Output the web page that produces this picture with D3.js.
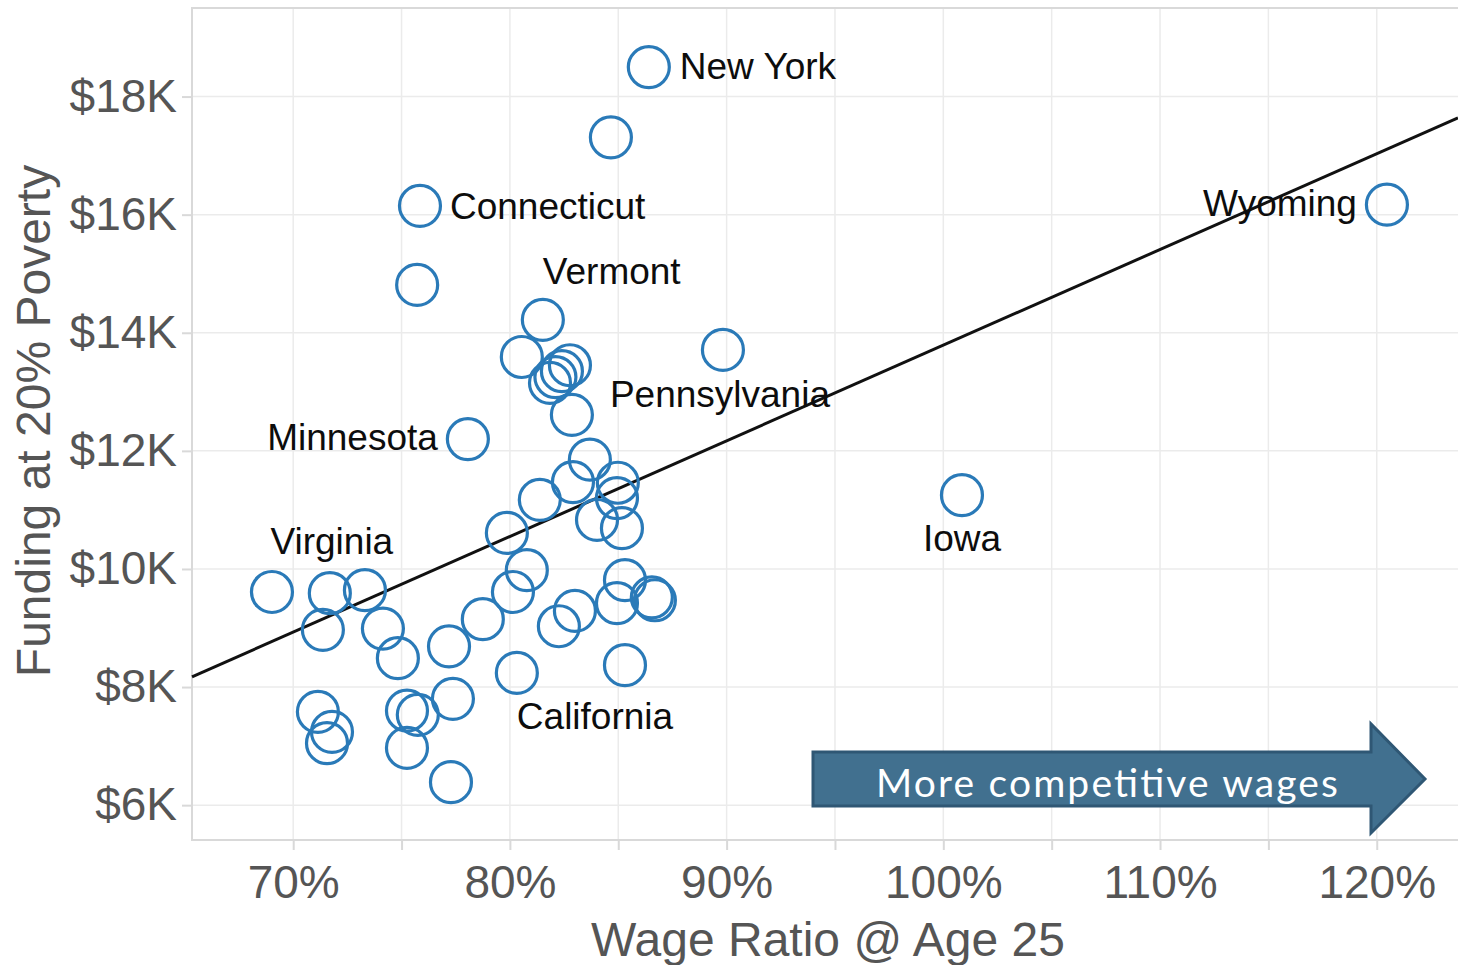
<!DOCTYPE html>
<html>
<head>
<meta charset="utf-8">
<script src="https://cdn.jsdelivr.net/npm/d3@7"></script>
<style>
  body { margin: 0; background: #fff; }
  svg { display: block; font-family: "Liberation Sans", Arial, sans-serif; }
</style>
</head>
<body>
<svg id="chart" width="1458" height="965"></svg>
<script>
// Data (wage ratio in %, funding in $K)
var wageRatio = [86.41, 84.66, 75.85, 75.72, 81.52, 80.55, 82.77, 82.40, 81.85, 82.10,
  89.83, 82.86, 78.06, 83.69, 82.91, 84.98, 81.38, 84.94, 84.02, 85.17,
  79.86, 100.86, 120.47, 80.78, 80.14, 69.02, 71.69, 73.31, 71.37, 74.14,
  74.83, 77.19, 78.75, 82.26, 83.00, 84.94, 85.31, 86.55, 86.69, 80.32,
  85.31, 71.14, 71.79, 71.56, 75.25, 75.75, 77.37, 75.25, 77.28]
var funding = [18.50, 17.31, 16.15, 14.81, 14.22, 13.59, 13.45, 13.35, 13.15, 13.25,
  13.71, 12.61, 12.20, 11.85, 11.47, 11.46, 11.17, 11.20, 10.83, 10.69,
  10.61, 11.25, 16.17, 9.98, 9.61, 9.61, 9.59, 9.64, 8.97, 8.99,
  8.49, 8.69, 9.15, 9.03, 9.29, 9.42, 9.81, 9.52, 9.47, 8.24,
  8.37, 7.58, 7.24, 7.05, 7.60, 7.53, 7.80, 6.97, 6.39]
var stateLabels = ['New York', '', 'Connecticut', '', 'Vermont', '', '', '', '', '',
  '', 'Pennsylvania', 'Minnesota', '', '', '', '', '', '', '',
  '', 'Iowa', 'Wyoming', '', '', '', 'Virginia', '', '', '',
  '', '', '', '', '', '', '', '', '', 'California',
  '', '', '', '', '', '', '', '', '']
var xTicks = [70, 75, 80, 85, 90, 95, 100, 105, 110, 115, 120]
var yTicks = [6, 8, 10, 12, 14, 16, 18]
var trendCoef = [0.1620, -2.41] // slope, intercept of the fitted line

// Label placement (layout only)
var labelPos = {
  'New York': { dx: 31, dy: 12, anchor: 'start' },
  'Connecticut': { dx: 30, dy: 13, anchor: 'start' },
  'Vermont': { dx: 0, dy: -36, anchor: 'start' },
  'Pennsylvania': { dx: 38, dy: -8, anchor: 'start' },
  'Minnesota': { dx: -30, dy: 11, anchor: 'end' },
  'Iowa': { dx: 0, dy: 56, anchor: 'middle' },
  'Wyoming': { dx: -30, dy: 11, anchor: 'end' },
  'Virginia': { dx: 2, dy: -39, anchor: 'middle' },
  'California': { dx: 0, dy: 56, anchor: 'start' }
}

var conf = {
  left: 192, top: 8, right: 1458, bottom: 840,
  radius: 20.5,
  blue: '#2a7ab8',
  grid: '#ebebeb',
  border: '#d9d9d9',
  tickText: '#555555'
}

var points = wageRatio.map(function (w, i) {
  return { wage: w, fund: funding[i], name: stateLabels[i] }
})

var svg = d3.select('#chart')

var x = d3.scaleLinear()
  .domain([65.33, 123.75])
  .range([conf.left, conf.right])

var y = d3.scaleLinear()
  .domain([5.41, 19.5])
  .range([conf.bottom, conf.top])

// Gridlines
svg.append('g').selectAll('line')
  .data(xTicks)
  .enter().append('line')
  .attr('x1', function (d) { return x(d) })
  .attr('x2', function (d) { return x(d) })
  .attr('y1', conf.top)
  .attr('y2', conf.bottom)
  .attr('stroke', conf.grid)
  .attr('stroke-width', 1.5)

svg.append('g').selectAll('line')
  .data(yTicks)
  .enter().append('line')
  .attr('x1', conf.left)
  .attr('x2', conf.right)
  .attr('y1', function (d) { return y(d) })
  .attr('y2', function (d) { return y(d) })
  .attr('stroke', conf.grid)
  .attr('stroke-width', 1.5)

// Frame
svg.append('path')
  .attr('d', 'M' + conf.right + ',' + conf.top + 'H' + conf.left + 'V' + conf.bottom + 'H' + conf.right)
  .attr('fill', 'none')
  .attr('stroke', conf.border)
  .attr('stroke-width', 2)

// Axes
var yAxis = svg.append('g')
  .attr('transform', 'translate(' + conf.left + ',0)')
  .call(d3.axisLeft(y).tickValues(yTicks).tickSize(10).tickPadding(5)
    .tickFormat(function (d) { return '$' + d + 'K' }))

var xAxis = svg.append('g')
  .attr('transform', 'translate(0,' + conf.bottom + ')')
  .call(d3.axisBottom(x).tickValues(xTicks).tickSize(10).tickPadding(15)
    .tickFormat(function (d) { return d % 10 === 0 ? d + '%' : '' }))

;[xAxis, yAxis].forEach(function (a) {
  a.select('.domain').remove()
  a.selectAll('.tick line').attr('stroke', conf.border).attr('stroke-width', 2)
  a.selectAll('.tick text')
    .attr('fill', conf.tickText)
    .style('font-family', '"Liberation Sans", Arial, sans-serif')
    .style('font-size', '46px')
})

// Axis titles
svg.append('text')
  .attr('x', 828)
  .attr('y', 956)
  .attr('text-anchor', 'middle')
  .attr('fill', conf.tickText)
  .style('font-size', '48px')
  .text('Wage Ratio @ Age 25')

svg.append('text')
  .attr('transform', 'translate(50,421) rotate(-90)')
  .attr('text-anchor', 'middle')
  .attr('fill', conf.tickText)
  .style('font-size', '48px')
  .text('Funding at 20% Poverty')

// Trend line
var trendX = x.domain()
svg.append('line')
  .attr('x1', x(trendX[0]))
  .attr('x2', x(trendX[1]))
  .attr('y1', y(trendCoef[0] * trendX[0] + trendCoef[1]))
  .attr('y2', y(trendCoef[0] * trendX[1] + trendCoef[1]))
  .attr('stroke', '#111')
  .attr('stroke-width', 3)

// Points
svg.append('g').selectAll('circle')
  .data(points)
  .enter().append('circle')
  .attr('cx', function (d) { return x(d.wage) })
  .attr('cy', function (d) { return y(d.fund) })
  .attr('r', conf.radius)
  .attr('fill', 'none')
  .attr('stroke', conf.blue)
  .attr('stroke-width', 3.2)

// State labels
svg.append('g').selectAll('text')
  .data(points.filter(function (d) { return d.name }))
  .enter().append('text')
  .attr('x', function (d) { return x(d.wage) + labelPos[d.name].dx })
  .attr('y', function (d) { return y(d.fund) + labelPos[d.name].dy })
  .attr('text-anchor', function (d) { return labelPos[d.name].anchor })
  .attr('fill', '#0d0d0d')
  .style('font-size', '37px')
  .text(function (d) { return d.name })

// Annotation arrow
var arrow = { x0: 813, x1: 1371, tip: 1425, top: 752, bot: 806, headTop: 724, headBot: 833 }
var midY = (arrow.top + arrow.bot) / 2
svg.append('path')
  .attr('d', 'M' + arrow.x0 + ',' + arrow.top +
    'H' + arrow.x1 + 'V' + arrow.headTop +
    'L' + arrow.tip + ',' + midY +
    'L' + arrow.x1 + ',' + arrow.headBot +
    'V' + arrow.bot + 'H' + arrow.x0 + 'Z')
  .attr('fill', '#41708f')
  .attr('stroke', '#2f5774')
  .attr('stroke-width', 3)
  .attr('stroke-linejoin', 'miter')

svg.append('text')
  .attr('x', 876)
  .attr('y', 797)
  .attr('fill', '#fff')
  .attr('textLength', 462)
  .attr('lengthAdjust', 'spacing')
  .style('font-family', 'Lato, "Open Sans", sans-serif')
  .style('font-size', '39px')
  .text('More competitive wages')
</script>
</body>
</html>
